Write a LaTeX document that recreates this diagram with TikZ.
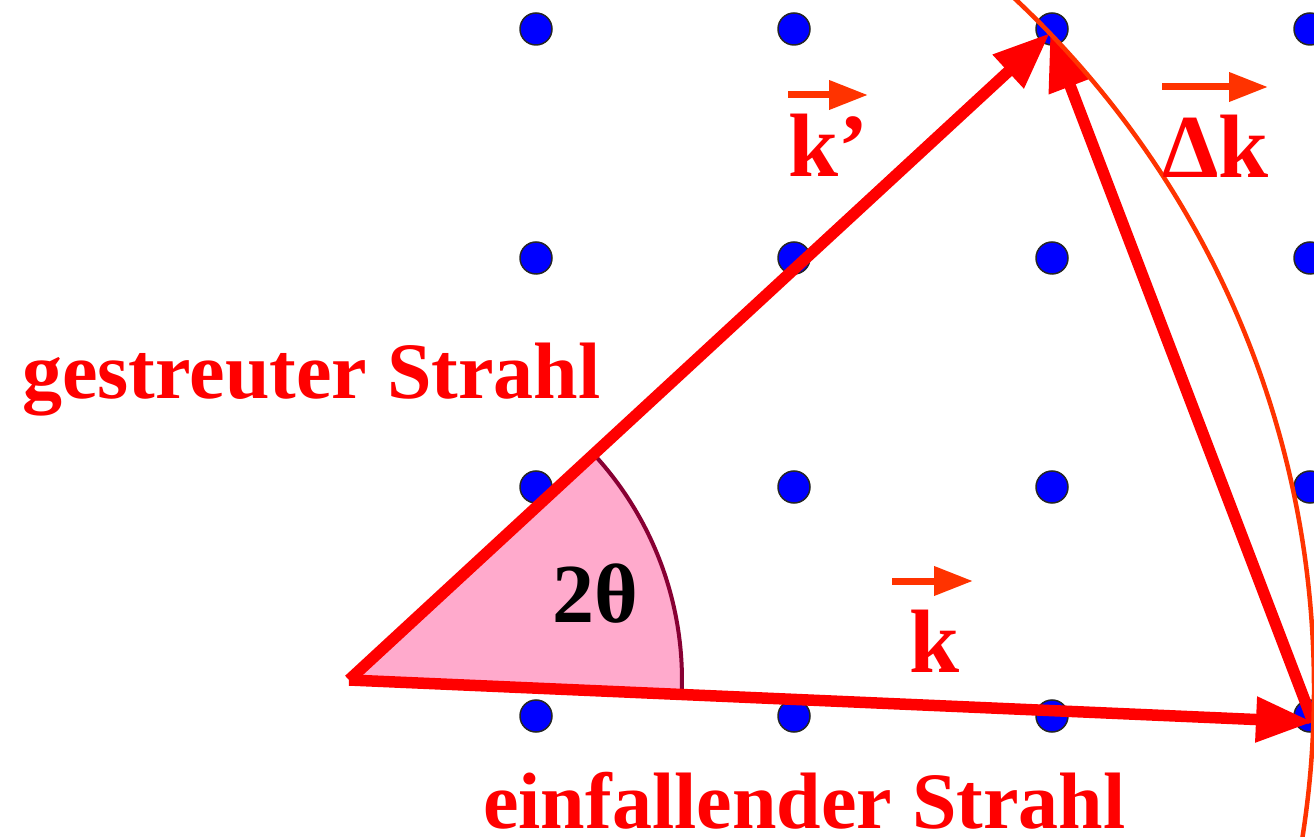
\documentclass[tikz,border=0pt]{standalone}
\usepackage{fontspec}
\setmainfont{Liberation Serif}
\usetikzlibrary{arrows.meta}
\definecolor{beamred}{HTML}{FF0000}
\definecolor{vecred}{HTML}{FF3300}
\definecolor{sectorpink}{HTML}{FFAACC}
\definecolor{sectorrim}{HTML}{880033}
\definecolor{dotblue}{HTML}{0000FF}
\begin{document}
\begin{tikzpicture}[x=1pt,y=1pt,
  lattice/.style={circle, fill=dotblue, draw=black!85, line width=1.5pt, minimum size=32pt, inner sep=0pt},
  beam/.style={draw=beamred, line width=11.5pt, -{Triangle[length=57pt,width=43pt]}},
  vecarrow/.style={draw=vecred, line width=7pt, -{Triangle[length=39pt,width=28pt]}},
  biglabel/.style={text=beamred, font=\fontsize{80}{96}\selectfont\bfseries, inner sep=0pt, anchor=base west},
  klabel/.style={text=beamred, font=\fontsize{90}{108}\selectfont\bfseries, inner sep=0pt, anchor=base west},
  anglelabel/.style={text=black, font=\fontsize{84}{100}\selectfont\bfseries, inner sep=0pt, anchor=base west},
  ewald/.style={draw=vecred, line width=4.5pt},
  rim/.style={draw=sectorrim, line width=4pt},
]
\useasboundingbox (0,0) rectangle (1314,836);
\begin{scope}
\clip (0,0) rectangle (1314,836);
% lattice points
\foreach \i/\x in {1/536,2/794,3/1052,4/1310}{
  \foreach \j/\y in {1/807,2/578,3/349,4/120}{
    \node[lattice] (p\i\j) at (\x,\y) {};
  }
}
% key points
\coordinate (O) at (349,156);
\coordinate (A) at (1050,803);
\coordinate (B) at (1313,114);
\coordinate (C) at (368,147);
% angle sector
\fill[sectorpink] (O) -- ++(-2.49:333) arc[start angle=-2.49, end angle=42.70, radius=333] -- cycle;
\draw[rim] (O) ++(-2.49:333) arc[start angle=-2.49, end angle=42.70, radius=333];
% beams
\draw[beam] (O) -- (A);
\draw[beam] (O) -- (B);
\draw[beam] (B) -- (A);
% Ewald circle
\draw[ewald] (C) circle[radius=946];
\end{scope}
% labels
\node[biglabel] (gs) at (22,437) {gestreuter Strahl};
\node[biglabel] (ef) at (483,8) {einfallender Strahl};
\node[klabel] (kp) at (788,659) {k’};
\node[klabel] (k) at (909,164) {k};
\node[klabel] (dk) at (1162,658) {Δk};
\node[anglelabel] (th) at (552,214) {2θ};
% vector arrows
\coordinate (kp1) at (788,741);
\coordinate (kp2) at (868,741);
\coordinate (k1) at (892,255);
\coordinate (k2) at (973,255);
\coordinate (dk1) at (1162,749);
\coordinate (dk2) at (1268,749);
\draw[vecarrow] (kp1) -- (kp2);
\draw[vecarrow] (k1) -- (k2);
\draw[vecarrow] (dk1) -- (dk2);
\end{tikzpicture}
\end{document}
